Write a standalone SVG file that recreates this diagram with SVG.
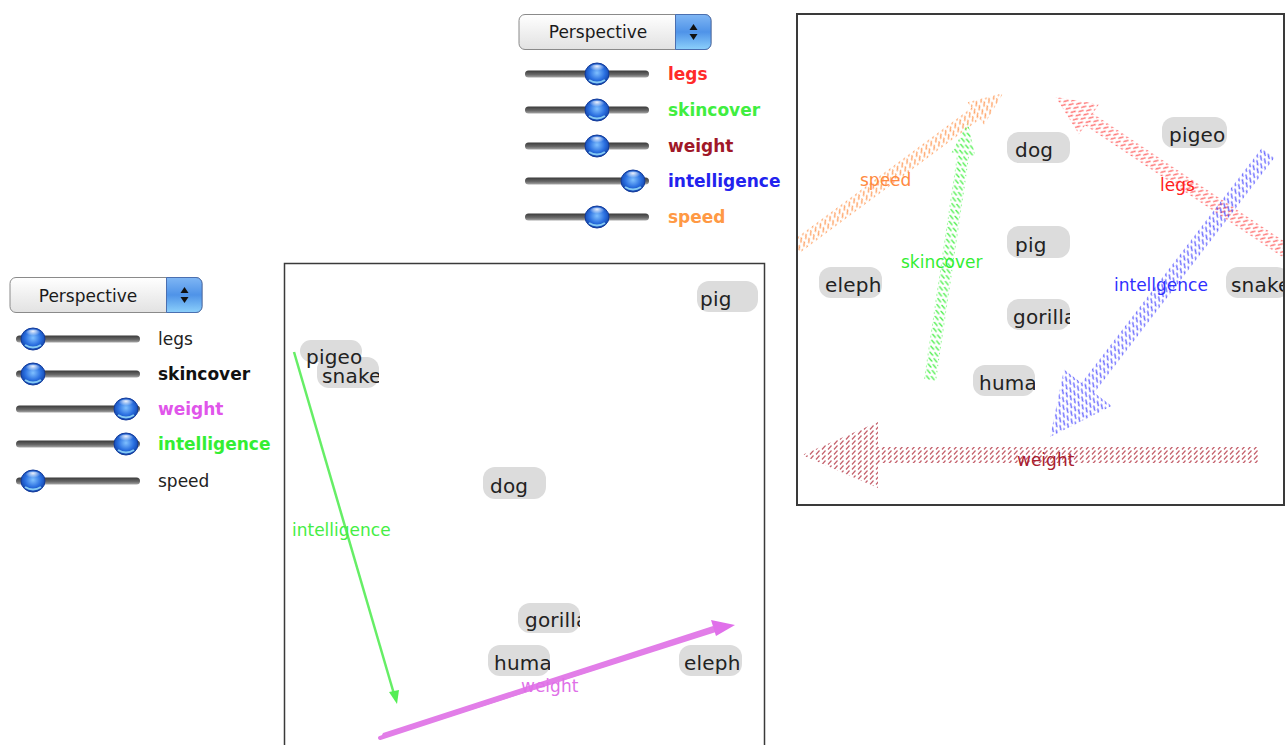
<svg xmlns="http://www.w3.org/2000/svg" width="1286" height="745" viewBox="0 0 1286 745">
  <defs>
    <style>
      .popup-text { font-family: "DejaVu Sans", "Liberation Sans", sans-serif; font-size: 17px; fill: #1a1a1a; text-anchor: middle; }
      .slabel { font-family: "DejaVu Sans", "Liberation Sans", sans-serif; font-size: 17px; }
      .bold { font-weight: bold; }
      .track { fill: url(#trackGrad); }
      .knob { fill: url(#knobGrad); stroke: #123a9a; stroke-width: 1; }
      .node rect { fill: #dcdcdc; }
      .node text { font-family: "DejaVu Sans", "Liberation Sans", sans-serif; font-size: 20px; letter-spacing: 0.2px; fill: #222; }
      .alabel { font-family: "DejaVu Sans", "Liberation Sans", sans-serif; font-size: 17px; }
      .panel { fill: #fff; stroke: #3a3a3a; }
    </style>
    <linearGradient id="popupGrad" x1="0" y1="0" x2="0" y2="1">
      <stop offset="0" stop-color="#ffffff"/>
      <stop offset="0.5" stop-color="#f0f0f0"/>
      <stop offset="1" stop-color="#e2e2e2"/>
    </linearGradient>
    <linearGradient id="popupBlue" x1="0" y1="0" x2="0" y2="1">
      <stop offset="0" stop-color="#7fb6f4"/>
      <stop offset="0.5" stop-color="#4f93e8"/>
      <stop offset="1" stop-color="#8cd0fb"/>
    </linearGradient>
    <linearGradient id="trackGrad" x1="0" y1="0" x2="0" y2="1">
      <stop offset="0" stop-color="#3a3a3a"/>
      <stop offset="0.6" stop-color="#6a6a6a"/>
      <stop offset="1" stop-color="#a8a8a8"/>
    </linearGradient>
    <radialGradient id="knobGrad" cx="0.5" cy="0.45" r="0.6">
      <stop offset="0" stop-color="#7fc0ff"/>
      <stop offset="0.55" stop-color="#2a6fe0"/>
      <stop offset="1" stop-color="#0c3a9c"/>
    </radialGradient>
    <radialGradient id="knobShine" cx="0.5" cy="0.2" r="0.5">
      <stop offset="0" stop-color="#ffffff" stop-opacity="0.9"/>
      <stop offset="1" stop-color="#ffffff" stop-opacity="0"/>
    </radialGradient>
    <g id="knob">
      <ellipse class="knob" cx="0" cy="0" rx="12" ry="11"/>
      <ellipse cx="0" cy="-5" rx="8" ry="4.5" fill="url(#knobShine)"/>
      <path d="M-8,6 Q0,11 8,6" fill="none" stroke="#9fe6ff" stroke-width="2" opacity="0.8"/>
    </g>
    <g id="popup">
      <rect x="0.5" y="0.5" width="192" height="35" rx="6" fill="url(#popupGrad)" stroke="#8a8a8a"/>
      <path d="M157,0.5 H186.5 a6,6 0 0 1 6,6 V29.5 a6,6 0 0 1 -6,6 H157 Z" fill="url(#popupBlue)" stroke="#4a6fb0"/>
      <path d="M171,16 L175,10 L179,16 Z" fill="#111"/>
      <path d="M171,20 L175,26 L179,20 Z" fill="#111"/>
    </g>
    <g id="track"><rect class="track" x="0" y="-3.5" width="124" height="7" rx="3.5"/></g>
    <pattern id="hatchOrange" patternUnits="userSpaceOnUse" width="6" height="5">
      <path d="M0.5,4.5 L4,0.5" stroke="#ff8c40" stroke-width="1.2" opacity="0.85"/>
    </pattern>
    <pattern id="hatchGreen" patternUnits="userSpaceOnUse" width="6" height="5">
      <path d="M0.5,4.5 L4,0.5" stroke="#33ee33" stroke-width="1.2" opacity="0.9"/>
    </pattern>
    <pattern id="hatchRed" patternUnits="userSpaceOnUse" width="6" height="5">
      <path d="M0.5,4.5 L4,0.5" stroke="#ff4040" stroke-width="1.2" opacity="0.8"/>
    </pattern>
    <pattern id="hatchBlue" patternUnits="userSpaceOnUse" width="6" height="5">
      <path d="M0.5,4.5 L4,0.5" stroke="#3535ff" stroke-width="1.2" opacity="0.8"/>
    </pattern>
    <pattern id="hatchWine" patternUnits="userSpaceOnUse" width="6" height="5">
      <path d="M0.5,4.5 L4,0.5" stroke="#b02838" stroke-width="1.2" opacity="0.75"/>
    </pattern>
    <clipPath id="rightClip"><rect x="798" y="15" width="485" height="489"/></clipPath>
    <clipPath id="leftClip"><rect x="285" y="264" width="479" height="481"/></clipPath>
  </defs>

  <rect width="1286" height="745" fill="#ffffff"/>

  <!-- control panel, lower left -->
  <g id="controls-left">
    <use href="#popup" x="9.5" y="277"/>
    <text class="popup-text" x="88" y="302">Perspective</text>
    <use href="#track" x="16" y="339"/>
    <use href="#track" x="16" y="374"/>
    <use href="#track" x="16" y="409"/>
    <use href="#track" x="16" y="444"/>
    <use href="#track" x="16" y="481"/>
    <use href="#knob" x="33" y="339"/>
    <use href="#knob" x="33" y="374"/>
    <use href="#knob" x="126" y="409"/>
    <use href="#knob" x="126" y="444"/>
    <use href="#knob" x="33" y="481"/>
    <text class="slabel" x="158" y="345" fill="#222">legs</text>
    <text class="slabel bold" x="158" y="380" fill="#111">skincover</text>
    <text class="slabel bold" x="158" y="415" fill="#e055ea">weight</text>
    <text class="slabel bold" x="158" y="450" fill="#33ee33">intelligence</text>
    <text class="slabel" x="158" y="487" fill="#222">speed</text>
  </g>

  <!-- control panel, top -->
  <g id="controls-top">
    <use href="#popup" x="518.5" y="14"/>
    <text class="popup-text" x="598" y="38">Perspective</text>
    <use href="#track" x="525" y="74"/>
    <use href="#track" x="525" y="110"/>
    <use href="#track" x="525" y="146"/>
    <use href="#track" x="525" y="181"/>
    <use href="#track" x="525" y="217"/>
    <use href="#knob" x="597" y="74"/>
    <use href="#knob" x="597" y="110"/>
    <use href="#knob" x="597" y="146"/>
    <use href="#knob" x="633" y="181"/>
    <use href="#knob" x="597" y="217"/>
    <text class="slabel bold" x="668" y="80" fill="#ff2a2a">legs</text>
    <text class="slabel bold" x="668" y="116" fill="#40ee40">skincover</text>
    <text class="slabel bold" x="668" y="152" fill="#a01828">weight</text>
    <text class="slabel bold" x="668" y="187" fill="#2222ee">intelligence</text>
    <text class="slabel bold" x="668" y="223" fill="#ff9944">speed</text>
  </g>

  <!-- left plot -->
  <rect class="panel" x="284.5" y="263.5" width="480" height="490" stroke-width="1.5"/>
  <g clip-path="url(#leftClip)">
    <g id="left-nodes">
      <g id="L-pig" class="node">
        <clipPath id="cL1"><rect x="697" y="281" width="61" height="31"/></clipPath>
        <rect x="697" y="281" width="61" height="31" rx="12"/>
        <text x="700" y="306" clip-path="url(#cL1)">pig</text>
      </g>
      <g id="L-snake" class="node">
        <clipPath id="cL3"><rect x="317" y="357" width="62" height="31"/></clipPath>
        <rect x="317" y="357" width="62" height="31" rx="12"/>
        <text x="322" y="383" clip-path="url(#cL3)">snake</text>
      </g>
      <g id="L-pigeo" class="node">
        <clipPath id="cL2"><rect x="300" y="340" width="62" height="34"/></clipPath>
        <rect x="300" y="340" width="62" height="22" rx="11"/>
        <text x="306" y="364" clip-path="url(#cL2)">pigeo</text>
      </g>
      <g id="L-dog" class="node">
        <clipPath id="cL4"><rect x="483" y="467" width="63" height="32"/></clipPath>
        <rect x="483" y="467" width="63" height="32" rx="12"/>
        <text x="490" y="493" clip-path="url(#cL4)">dog</text>
      </g>
      <g id="L-gorilla" class="node">
        <clipPath id="cL5"><rect x="518" y="603" width="62" height="30"/></clipPath>
        <rect x="518" y="603" width="62" height="30" rx="12"/>
        <text x="525" y="627" clip-path="url(#cL5)">gorilla</text>
      </g>
      <g id="L-huma" class="node">
        <clipPath id="cL6"><rect x="488" y="645" width="62" height="31"/></clipPath>
        <rect x="488" y="645" width="62" height="31" rx="12"/>
        <text x="494" y="670" clip-path="url(#cL6)">huma</text>
      </g>
      <g id="L-eleph" class="node">
        <clipPath id="cL7"><rect x="679" y="645" width="63" height="31"/></clipPath>
        <rect x="679" y="645" width="63" height="31" rx="12"/>
        <text x="684" y="670" clip-path="url(#cL7)">eleph</text>
      </g>
    </g>
    <g id="left-connectors">
      <line x1="294" y1="352" x2="394" y2="694" stroke="#66ee66" stroke-width="2.5"/>
      <path d="M389,692 L397,704 L399,690 Z" fill="#55ee55"/>
      <path d="M380,739 L383,733 L713,626 L716,632 Z" fill="#e27ee8"/>
      <path d="M380,738 L714,629" stroke="#e27ee8" stroke-width="4" stroke-linecap="round"/>
      <path d="M711,620 L735,625 L716,636 Z" fill="#e070ea"/>
      <text class="alabel" x="292" y="536" fill="#44ee44">intelligence</text>
      <text class="alabel" x="521" y="692" fill="#e070e8">weight</text>
    </g>
  </g>

  <!-- right plot -->
  <rect class="panel" x="797" y="14" width="487" height="491" stroke-width="2"/>
  <g clip-path="url(#rightClip)">
    <g id="right-nodes">
      <g id="R-dog" class="node">
        <clipPath id="cR1"><rect x="1007" y="132" width="63" height="31"/></clipPath>
        <rect x="1007" y="132" width="63" height="31" rx="12"/>
        <text x="1015" y="157" clip-path="url(#cR1)">dog</text>
      </g>
      <g id="R-pigeo" class="node">
        <clipPath id="cR2"><rect x="1162" y="117" width="65" height="31"/></clipPath>
        <rect x="1162" y="117" width="65" height="31" rx="12"/>
        <text x="1169" y="142" clip-path="url(#cR2)">pigeo</text>
      </g>
      <g id="R-pig" class="node">
        <clipPath id="cR3"><rect x="1007" y="226" width="63" height="32"/></clipPath>
        <rect x="1007" y="226" width="63" height="32" rx="12"/>
        <text x="1015" y="252" clip-path="url(#cR3)">pig</text>
      </g>
      <g id="R-eleph" class="node">
        <clipPath id="cR4"><rect x="819" y="267" width="63" height="31"/></clipPath>
        <rect x="819" y="267" width="63" height="31" rx="12"/>
        <text x="825" y="292" clip-path="url(#cR4)">eleph</text>
      </g>
      <g id="R-snake" class="node">
        <clipPath id="cR5"><rect x="1226" y="267" width="63" height="31"/></clipPath>
        <rect x="1226" y="267" width="63" height="31" rx="12"/>
        <text x="1231" y="292" clip-path="url(#cR5)">snake</text>
      </g>
      <g id="R-gorilla" class="node">
        <clipPath id="cR6"><rect x="1007" y="299" width="63" height="31"/></clipPath>
        <rect x="1007" y="299" width="63" height="31" rx="12"/>
        <text x="1013" y="324" clip-path="url(#cR6)">gorilla</text>
      </g>
      <g id="R-huma" class="node">
        <clipPath id="cR7"><rect x="973" y="365" width="62" height="31"/></clipPath>
        <rect x="973" y="365" width="62" height="31" rx="12"/>
        <text x="979" y="390" clip-path="url(#cR7)">huma</text>
      </g>
    </g>
    <g id="right-connectors">
      <!-- speed -->
      <g transform="translate(796,247) rotate(-36.6)">
        <path d="M0,-7 L224,-7 L224,-14 L258,0 L224,14 L224,7 L0,7 Z" fill="url(#hatchOrange)"/>
      </g>
      <!-- skincover -->
      <g transform="translate(930,380) rotate(-81.6)">
        <path d="M0,-6 L228,-6 L228,-12 L260,0 L228,12 L228,6 L0,6 Z" fill="url(#hatchGreen)"/>
      </g>
      <!-- legs -->
      <g transform="translate(1286,251) rotate(-146.25)">
        <path d="M0,-7 L237,-7 L237,-18 L277,0 L237,18 L237,7 L0,7 Z" fill="url(#hatchRed)"/>
      </g>
      <!-- intelligence -->
      <g transform="translate(1268,153) rotate(127.5)">
        <path d="M0,-8 L296,-8 L296,-30 L358,0 L296,30 L296,8 L0,8 Z" fill="url(#hatchBlue)"/>
      </g>
      <!-- weight -->
      <g transform="translate(1258,455) rotate(180)">
        <path d="M0,-8 L380,-8 L380,-33 L456,0 L380,33 L380,8 L0,8 Z" fill="url(#hatchWine)"/>
      </g>
      <text class="alabel" x="860" y="186" fill="#ff8a40">speed</text>
      <text class="alabel" x="901" y="268" fill="#33ee33">skincover</text>
      <text class="alabel" x="1160" y="191" fill="#ff2020">legs</text>
      <text class="alabel" x="1114" y="291" fill="#3030ff">intellgence</text>
      <text class="alabel" x="1017" y="466" fill="#a82030">weight</text>
    </g>
  </g>
</svg>
